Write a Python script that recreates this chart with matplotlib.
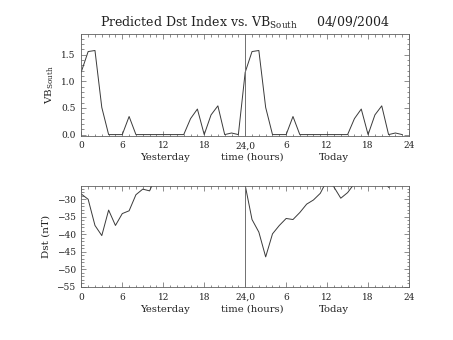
import numpy as np
import matplotlib
matplotlib.use("Agg")
import matplotlib.pyplot as plt
from matplotlib.ticker import MultipleLocator, FixedLocator
from matplotlib.transforms import blended_transform_factory

plt.rcParams['font.family'] = ['DejaVu Serif']
plt.rcParams['mathtext.fontset'] = 'dejavuserif'

# hourly values, yesterday (0-23) followed by today (24-47)
hours = np.arange(48)
vb_south = [1.18, 1.56, 1.58, 0.51, 0.0, 0.0, 0.0, 0.34, 0.0, 0.0, 0.0, 0.0,
            0.0, 0.0, 0.0, 0.0, 0.30, 0.48, 0.0, 0.37, 0.54, 0.0, 0.03, 0.0,
            1.17, 1.56, 1.58, 0.51, 0.0, 0.0, 0.0, 0.34, 0.0, 0.0, 0.0, 0.0,
            0.0, 0.0, 0.0, 0.0, 0.30, 0.48, 0.0, 0.37, 0.54, 0.0, 0.03, 0.0]
# values above about -26 nT fall off the top of the panel
dst = [-28.5, -30.0, -37.5, -40.4, -33.1, -37.5, -34.1, -33.3, -28.7, -27.1, -27.6, -23.2,
       -24.0, -24.0, -24.0, -24.0, -24.0, -24.0, -24.0, -24.0, -24.0, -24.0, -24.0, -24.0,
       -26.0, -35.8, -39.4, -46.5, -39.9, -37.5, -35.5, -35.8, -33.8, -31.4, -30.2, -28.3,
       -24.5, -26.5, -29.7, -28.1, -25.5, -24.0, -24.0, -24.0, -24.0, -26.6, -25.0, -25.0]

tick_pos = [0, 6, 12, 18, 24, 30, 36, 42, 48]
tick_lab = ['0', '6', '12', '18', '24,0', '6', '12', '18', '24']

title = 'Predicted Dst Index vs. VB$_{\\rm South}$     04/09/2004'
line_col = '#3a3a3a'
axis_col = '#606060'
text_col = '#222222'

fig = plt.figure(figsize=(4.53, 3.40), dpi=100)
ax1 = fig.add_axes([0.1795, 0.601, 0.7235, 0.299])
ax2 = fig.add_axes([0.1795, 0.155, 0.7235, 0.298])


def style(ax, ymajor, yminor):
    ax.set_xlim(0, 48)
    ax.xaxis.set_major_locator(FixedLocator(tick_pos))
    ax.set_xticklabels(tick_lab)
    ax.xaxis.set_minor_locator(MultipleLocator(1))
    ax.yaxis.set_major_locator(MultipleLocator(ymajor))
    ax.yaxis.set_minor_locator(MultipleLocator(yminor))
    ax.tick_params(which='both', direction='in', top=True, right=True,
                   colors=axis_col, labelcolor=text_col, labelsize=6.5, width=0.5)
    ax.tick_params(which='major', length=3.5, pad=4)
    ax.tick_params(which='minor', length=1.8)
    for s in ax.spines.values():
        s.set_color(axis_col)
        s.set_linewidth(0.6)
    ax.axvline(24, color='#707070', lw=0.7)
    tr = blended_transform_factory(ax.transData, ax.transAxes)
    ax.text(12.3, -0.215, 'Yesterday', transform=tr, ha='center', va='center', fontsize=7.2, color=text_col)
    ax.text(25.1, -0.215, 'time (hours)', transform=tr, ha='center', va='center', fontsize=7.2, color=text_col)
    ax.text(37.0, -0.215, 'Today', transform=tr, ha='center', va='center', fontsize=7.2, color=text_col)


ax1.plot(hours, vb_south, color=line_col, lw=0.7)
ax1.set_ylim(-0.02, 1.89)
style(ax1, 0.5, 0.1)
ax1.yaxis.set_major_formatter(matplotlib.ticker.FormatStrFormatter('%.1f'))
ax1.set_ylabel('VB$_{\\rm South}$', fontsize=7.5, color=text_col, labelpad=4)
ax1.set_title(title, fontsize=9, color=text_col, pad=5)

ax2.plot(hours, dst, color=line_col, lw=0.7)
ax2.set_ylim(-55.2, -26.2)
style(ax2, 5, 1)
ax2.set_ylabel('Dst (nT)', fontsize=7.5, color=text_col, labelpad=4)

fig.savefig('out.png', dpi=100)
